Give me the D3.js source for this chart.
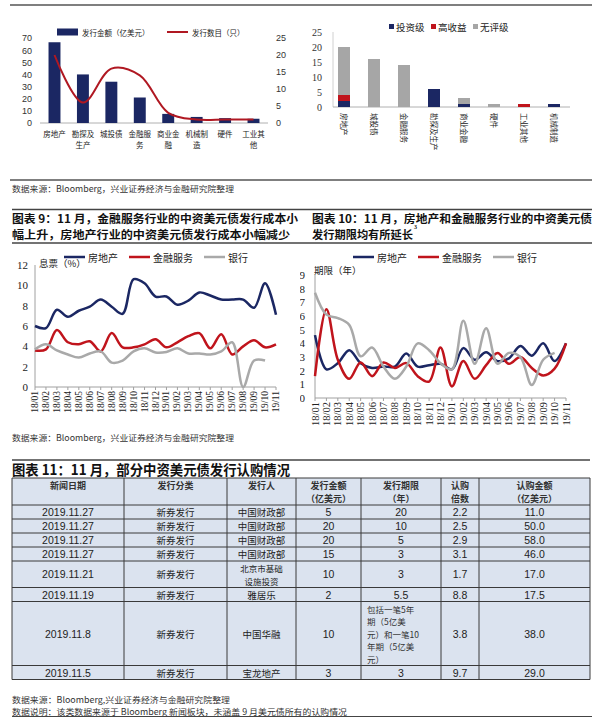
<!DOCTYPE html>
<html><head><meta charset="utf-8">
<script src="https://cdn.jsdelivr.net/npm/d3@7"></script>
<style>body{margin:0;background:#fff}svg{display:block}</style>
</head><body><svg id="c" width="600" height="722"></svg>
<script>
// ---------- DATA ----------
// Chart A: issuance by industry
const catsA = ["房地产","勘探及生产","城投债","金融服务","商业金融","机械制造","硬件","工业其他"];
const catsALabels = [["房地产"],["勘探及","生产"],["城投债"],["金融服","务"],["商业金","融"],["机械制","造"],["硬件"],["工业其","他"]];
const issueAmount = [66.5,40,34,21,7.5,5,4,3.5];
const issueCount = [20,6,16,14,3,1,1,1];
const ticksALeft = [0,10,20,30,40,50,60,70];
const ticksARight = [0,5,10,15,20,25];
// Chart B: rating breakdown
const catsB = ["房地产","城投债","金融服务","勘探及生产","商业金融","硬件","工业其他","机械制造"];
const invGrade = [2,0,0,6,1,0,0,1];
const highYield = [2,0,0,0,0,0,1,0];
const unrated = [16,16,14,0,2,1,0,0];
const ticksB = [0,5,10,15,20,25];
// Months
const months = ["18/01","18/02","18/03","18/04","18/05","18/06","18/07","18/08","18/09","18/10","18/11","18/12","19/01","19/02","19/03","19/04","19/05","19/06","19/07","19/08","19/09","19/10","19/11"];
// Chart C: coupon (%)
const couponRE = [6.0,5.8,7.6,6.9,7.5,7.9,8.6,7.9,7.2,10.6,10.2,8.9,8.9,8.1,8.5,9.3,9.0,8.6,8.6,8.6,7.8,10.2,7.1];
const couponFin = [3.6,3.7,5.6,4.4,4.2,4.5,3.5,5.3,3.9,3.9,4.2,4.7,3.9,4.4,5.0,5.3,3.8,5.2,3.2,4.0,4.6,3.9,4.2];
const couponBank = [3.7,4.2,3.6,3.2,2.9,3.3,3.5,2.4,2.6,3.5,3.8,3.4,3.45,3.8,3.3,3.3,3.2,3.5,4.4,0.0,2.6,2.6,null];
const ticksC = [0,2,4,6,8,10,12];
// Chart D: tenor (years)
const tenorRE = [4.6,2.1,2.55,3.5,2.55,2.2,2.3,2.3,3.25,2.3,2.4,2.5,2.1,3.65,2.8,3.35,2.7,2.9,3.8,3.1,4.0,2.7,4.0];
const tenorFin = [1.6,6.5,2.8,1.4,2.6,1.6,2.6,2.2,2.55,1.6,1.2,3.7,0.85,2.7,1.4,2.4,3.3,2.5,3.0,2.2,1.65,2.15,4.0];
const tenorBank = [7.7,6.1,5.85,5.35,3.05,3.7,2.3,1.4,2.3,4.0,3.5,2.55,2.1,5.65,2.5,5.1,2.5,3.3,3.0,0.95,2.8,3.3,null];
const ticksD = [0,1,2,3,4,5,6,7,8,9];
// Table
const tableHeaders = [["新闻日期"],["发行分类"],["发行人"],["发行金额","（亿美元）"],["发行期限","（年）"],["认购","倍数"],["认购金额","（亿美元）"]];
const newsDate = ["2019.11.27","2019.11.27","2019.11.27","2019.11.27","2019.11.21","2019.11.19","2019.11.8","2019.11.5"];
const issueType = ["新券发行","新券发行","新券发行","新券发行","新券发行","新券发行","新券发行","新券发行"];
const issuer = [["中国财政部"],["中国财政部"],["中国财政部"],["中国财政部"],["北京市基础","设施投资"],["雅居乐"],["中国华融"],["宝龙地产"]];
const issueAmt = ["5","20","20","15","10","2","10","3"];
const tenor = [["20"],["10"],["5"],["3"],["3"],["5.5"],["包括一笔5年","期（5亿美","元）和一笔10","年期（5亿美","元）"],["3"]];
const multiple = ["2.2","2.5","2.9","3.1","1.7","8.8","3.8","9.7"];
const subscribed = ["11.0","50.0","58.0","46.0","17.0","17.5","38.0","29.0"];

// ---------- SETUP ----------
const svg = d3.select("#c");
const CJK = "'Noto Sans CJK SC','Noto Sans',sans-serif";
const SERIF = "'Liberation Serif','DejaVu Serif',serif";
const SANS = "'Liberation Sans',Arial,sans-serif";
const NAVY = "#1b2763", RED = "#c0141c", GRAY = "#a9a9a9", DARK = "#222";

function hline(x1,x2,y,c,w){svg.append("line").attr("x1",x1).attr("x2",x2).attr("y1",y).attr("y2",y).attr("stroke",c).attr("stroke-width",w);}
function text(g,x,y,s,o={}){
  const t=g.append("text").attr("x",x).attr("y",y).text(s)
    .attr("font-family",o.ff||CJK).attr("font-size",o.fs||10).attr("fill",o.fill||DARK)
    .attr("text-anchor",o.anchor||"start").attr("dominant-baseline","central");
  if(o.fw) t.attr("font-weight",o.fw);
  if(o.len) t.attr("textLength",o.len).attr("lengthAdjust","spacingAndGlyphs");
  return t;
}

// page rules
hline(10,592,5,"#555",1.5);
hline(10,592,180,"#555",1.5);

// ---------- CHART A ----------
const gA = svg.append("g");
const xA = d3.scaleBand().domain(catsA).range([40,268]).paddingInner(0.58).paddingOuter(0.3);
const yA = d3.scaleLinear().domain([0,70]).range([123,38]);
const yA2 = d3.scaleLinear().domain([0,25]).range([123,38]);
gA.append("g").attr("transform","translate(32,0)")
  .call(d3.axisLeft(yA).tickValues(ticksALeft).tickSize(0).tickPadding(0))
  .call(g=>g.select(".domain").remove())
  .selectAll("text").attr("font-family",SANS).attr("font-size",9).attr("fill","#333");
gA.append("g").attr("transform","translate(276,0)")
  .call(d3.axisRight(yA2).tickValues(ticksARight).tickSize(0).tickPadding(0))
  .call(g=>g.select(".domain").remove())
  .selectAll("text").attr("font-family",SANS).attr("font-size",9).attr("fill","#333");
gA.append("line").attr("x1",40).attr("x2",268).attr("y1",yA(0)).attr("y2",yA(0)).attr("stroke","#b0b0b0");
gA.selectAll("rect.bar").data(issueAmount).enter().append("rect")
  .attr("x",(d,i)=>xA(catsA[i])).attr("y",d=>yA(d))
  .attr("width",xA.bandwidth()).attr("height",d=>yA(0)-yA(d)).attr("fill",NAVY);
gA.append("path").datum(issueCount)
  .attr("d",d3.line().x((d,i)=>xA(catsA[i])+xA.bandwidth()/2).y(d=>yA2(d)).curve(d3.curveCatmullRom.alpha(0.5)))
  .attr("fill","none").attr("stroke","#b01822").attr("stroke-width",2);
catsALabels.forEach((lines,i)=>{
  lines.forEach((l,j)=>text(gA,xA(catsA[i])+xA.bandwidth()/2,133+j*11.5,l,{fs:7.5,anchor:"middle"}));
});
// legend A
gA.append("rect").attr("x",57).attr("y",28.5).attr("width",21).attr("height",7).attr("fill",NAVY);
text(gA,82,32,"发行金额（亿美元）",{fs:7.5});
gA.append("line").attr("x1",167).attr("x2",188).attr("y1",32).attr("y2",32).attr("stroke","#b01822").attr("stroke-width",2);
text(gA,192,32,"发行数目（只）",{fs:7.5});

// ---------- CHART B ----------
const gB = svg.append("g");
const xB = d3.scaleBand().domain(catsB).range([329,569]).paddingInner(0.6).paddingOuter(0.3);
const yB = d3.scaleLinear().domain([0,25]).range([107,32]);
gB.append("g").attr("transform","translate(322,0)")
  .call(d3.axisLeft(yB).tickValues(ticksB).tickSize(0).tickPadding(0))
  .call(g=>g.select(".domain").remove())
  .selectAll("text").attr("font-family",SERIF).attr("font-size",10).attr("fill","#333");
gB.append("line").attr("x1",333).attr("x2",333).attr("y1",32).attr("y2",107).attr("stroke","#d0d0d0");
gB.append("line").attr("x1",333).attr("x2",570).attr("y1",107).attr("y2",107).attr("stroke","#b0b0b0");
const stackB = d3.stack().keys(["inv","hy","un"])(catsB.map((c,i)=>({inv:invGrade[i],hy:highYield[i],un:unrated[i]})));
const colB = {inv:NAVY,hy:RED,un:"#a6a6a6"};
stackB.forEach(layer=>{
  gB.selectAll(null).data(layer).enter().append("rect")
    .attr("x",(d,i)=>xB(catsB[i])).attr("y",d=>yB(d[1]))
    .attr("width",xB.bandwidth()).attr("height",d=>yB(d[0])-yB(d[1]))
    .attr("fill",colB[layer.key]);
});
catsB.forEach(c=>{
  gB.append("text").attr("transform",`translate(${xB(c)+xB.bandwidth()/2},113) rotate(90)`)
    .attr("font-family",CJK).attr("font-size",7.5).attr("fill",DARK).attr("dominant-baseline","central").text(c);
});
[["投资级",NAVY,389],["高收益",RED,431],["无评级","#a6a6a6",473]].forEach(([n,col,x])=>{
  gB.append("rect").attr("x",x).attr("y",24).attr("width",5).attr("height",5).attr("fill",col);
  text(gB,x+7,27,n,{fs:9.5});
});

// source 1
text(svg,12,188,"数据来源：Bloomberg，兴业证券经济与金融研究院整理",{fs:8.5,fill:"#333",len:222});

// ---------- TITLES 9/10 ----------
hline(12,592,209.5,"#444",1.5);
text(svg,12,217.5,"图表 9：11 月，金融服务行业的中资美元债发行成本小",{fs:11,fw:700,fill:"#111",len:286});
text(svg,12,233.5,"幅上升，房地产行业的中资美元债发行成本小幅减少",{fs:11,fw:700,fill:"#111",len:278});
text(svg,312,217.5,"图表 10：11 月，房地产和金融服务行业的中资美元债",{fs:11,fw:700,fill:"#111",len:280});
const t10=text(svg,312,233.5,"发行期限均有所延长",{fs:11,fw:700,fill:"#111",len:101});
svg.append("text").attr("x",414).attr("y",229).attr("font-family",SERIF).attr("font-size",6).attr("font-weight",700).attr("fill","#111").text("3");
hline(12,592,243,"#444",1.5);

// ---------- LINE CHART helper ----------
function lineChart(o){
  const g = svg.append("g");
  if(o.clip){
    svg.append("clipPath").attr("id",o.clip).append("rect").attr("x",300).attr("y",240).attr("width",300).attr("height",200);
    g.attr("clip-path",`url(#${o.clip})`);
  }
  const x = d3.scalePoint().domain(months).range(o.xr);
  const y = d3.scaleLinear().domain(o.dom).range(o.yr);
  g.append("g").attr("transform",`translate(${o.labelX},0)`)
    .call(d3.axisLeft(y).tickValues(o.ticks).tickSize(0).tickPadding(0))
    .call(a=>a.select(".domain").remove())
    .selectAll("text").attr("font-family",SERIF).attr("font-size",11).attr("fill","#222");
  g.append("line").attr("x1",o.xr[0]).attr("x2",o.xr[0]).attr("y1",o.yr[1]).attr("y2",o.yr[0]).attr("stroke","#a0a0a0");
  g.append("line").attr("x1",o.xr[0]).attr("x2",o.xr[1]).attr("y1",o.yr[0]).attr("y2",o.yr[0]).attr("stroke","#a0a0a0");
  g.selectAll(null).data(months).enter().append("line")
    .attr("x1",d=>x(d)).attr("x2",d=>x(d)).attr("y1",o.yr[0]).attr("y2",o.yr[0]+3).attr("stroke","#a0a0a0");
  g.selectAll(null).data(months).enter().append("text")
    .attr("transform",d=>`translate(${x(d)},${o.yr[0]+4}) rotate(-90)`)
    .attr("text-anchor","end").attr("dominant-baseline","central")
    .attr("font-family",SERIF).attr("font-size",o.xfs).attr("fill","#222").text(d=>d);
  const ln = d3.line().defined(d=>d!=null).x((d,i)=>x(months[i])).y(d=>y(d)).curve(d3.curveCatmullRom.alpha(0.5));
  o.series.forEach(s=>{
    g.append("path").datum(s.v).attr("d",ln).attr("fill","none").attr("stroke",s.c).attr("stroke-width",2.5);
  });
  text(g,o.unit[0],o.unit[1],o.unit[2],{fs:9.5});
  o.series.forEach((s,i)=>{
    const lx=o.legX[i];
    g.append("line").attr("x1",lx).attr("x2",lx+21).attr("y1",257).attr("y2",257).attr("stroke",s.c).attr("stroke-width",2.5);
    text(g,lx+24,257,s.n,{fs:10});
  });
}
lineChart({xr:[35,276],yr:[387,265],dom:[0,12],ticks:ticksC,labelX:28,xfs:9.5,
  unit:[39,263,"息票（%）"],legX:[64,129,204],
  series:[{n:"房地产",c:NAVY,v:couponRE},{n:"金融服务",c:RED,v:couponFin},{n:"银行",c:GRAY,v:couponBank}]});
lineChart({xr:[315,566],yr:[398,275],dom:[0,9],ticks:ticksD,labelX:305,xfs:10.5,clip:"clipD",
  unit:[314,270,"期限（年）"],legX:[353,418,493],
  series:[{n:"房地产",c:NAVY,v:tenorRE},{n:"金融服务",c:RED,v:tenorFin},{n:"银行",c:GRAY,v:tenorBank}]});

text(svg,12,437,"数据来源：Bloomberg，兴业证券经济与金融研究院整理",{fs:8.5,fill:"#333",len:222});

// ---------- TABLE ----------
hline(12,590,460,"#444",1.5);
text(svg,12,469,"图表 11：11 月，部分中资美元债发行认购情况",{fs:14,fw:700,fill:"#111",len:278});
const colX = [12,124,227,296,361,441,479,590];
const gT = svg.append("g");
const headTop = 478, headH = 27;
const LS = 12.5;
const rows = newsDate.map((d,i)=>[[d],[issueType[i]],issuer[i],[issueAmt[i]],tenor[i],[multiple[i]],[subscribed[i]]]);
const rowH = rows.map(r=>14+(d3.max(r,c=>c.length)-1)*LS);
const rowY = [];
let yy = headTop+headH;
rowH.forEach(h=>{rowY.push(yy);yy+=h;});
const tableBottom = yy;
gT.append("rect").attr("x",colX[0]).attr("y",headTop).attr("width",colX[7]-colX[0]).attr("height",tableBottom-headTop).attr("fill","#dbe3ef");
[headTop,headTop+headH,...rowY.slice(1),tableBottom].forEach(y=>{
  gT.append("line").attr("x1",colX[0]).attr("x2",colX[7]).attr("y1",y).attr("y2",y).attr("stroke","#3a3a3a").attr("stroke-width",1);
});
colX.forEach(x=>{
  gT.append("line").attr("x1",x).attr("x2",x).attr("y1",headTop).attr("y2",tableBottom).attr("stroke","#3a3a3a").attr("stroke-width",1);
});
const isNum = s=>/^[\d.]+$/.test(s);
tableHeaders.forEach((lines,c)=>{
  const cx=(colX[c]+colX[c+1])/2;
  lines.forEach((l,j)=>text(gT,cx,485+j*13,l,{fs:9,fw:700,anchor:"middle",fill:"#333"}));
});
rows.forEach((r,i)=>{
  const mid=rowY[i]+rowH[i]/2;
  r.forEach((lines,c)=>{
    const multi = lines.length>2;
    lines.forEach((l,j)=>{
      const yv = mid+(j-(lines.length-1)/2)*LS;
      if(multi) text(gT,colX[c]+6,yv,l,{fs:8.5,fill:"#333"});
      else text(gT,(colX[c]+colX[c+1])/2,yv,l,{fs:isNum(l)?10.5:(lines.length>1?8.5:9.5),ff:isNum(l)?SANS:CJK,anchor:"middle",fill:"#222"});
    });
  });
});
text(svg,12,tableBottom+19,"数据来源：Bloomberg,兴业证券经济与金融研究院整理",{fs:8.5,fill:"#333",len:218});
text(svg,12,tableBottom+31,"数据说明：该类数据来源于 Bloomberg 新闻板块，未涵盖 9 月美元债所有的认购情况",{fs:8.5,fill:"#333",len:335});
hline(12,592,tableBottom+37,"#444",1.2);
</script></body></html>
